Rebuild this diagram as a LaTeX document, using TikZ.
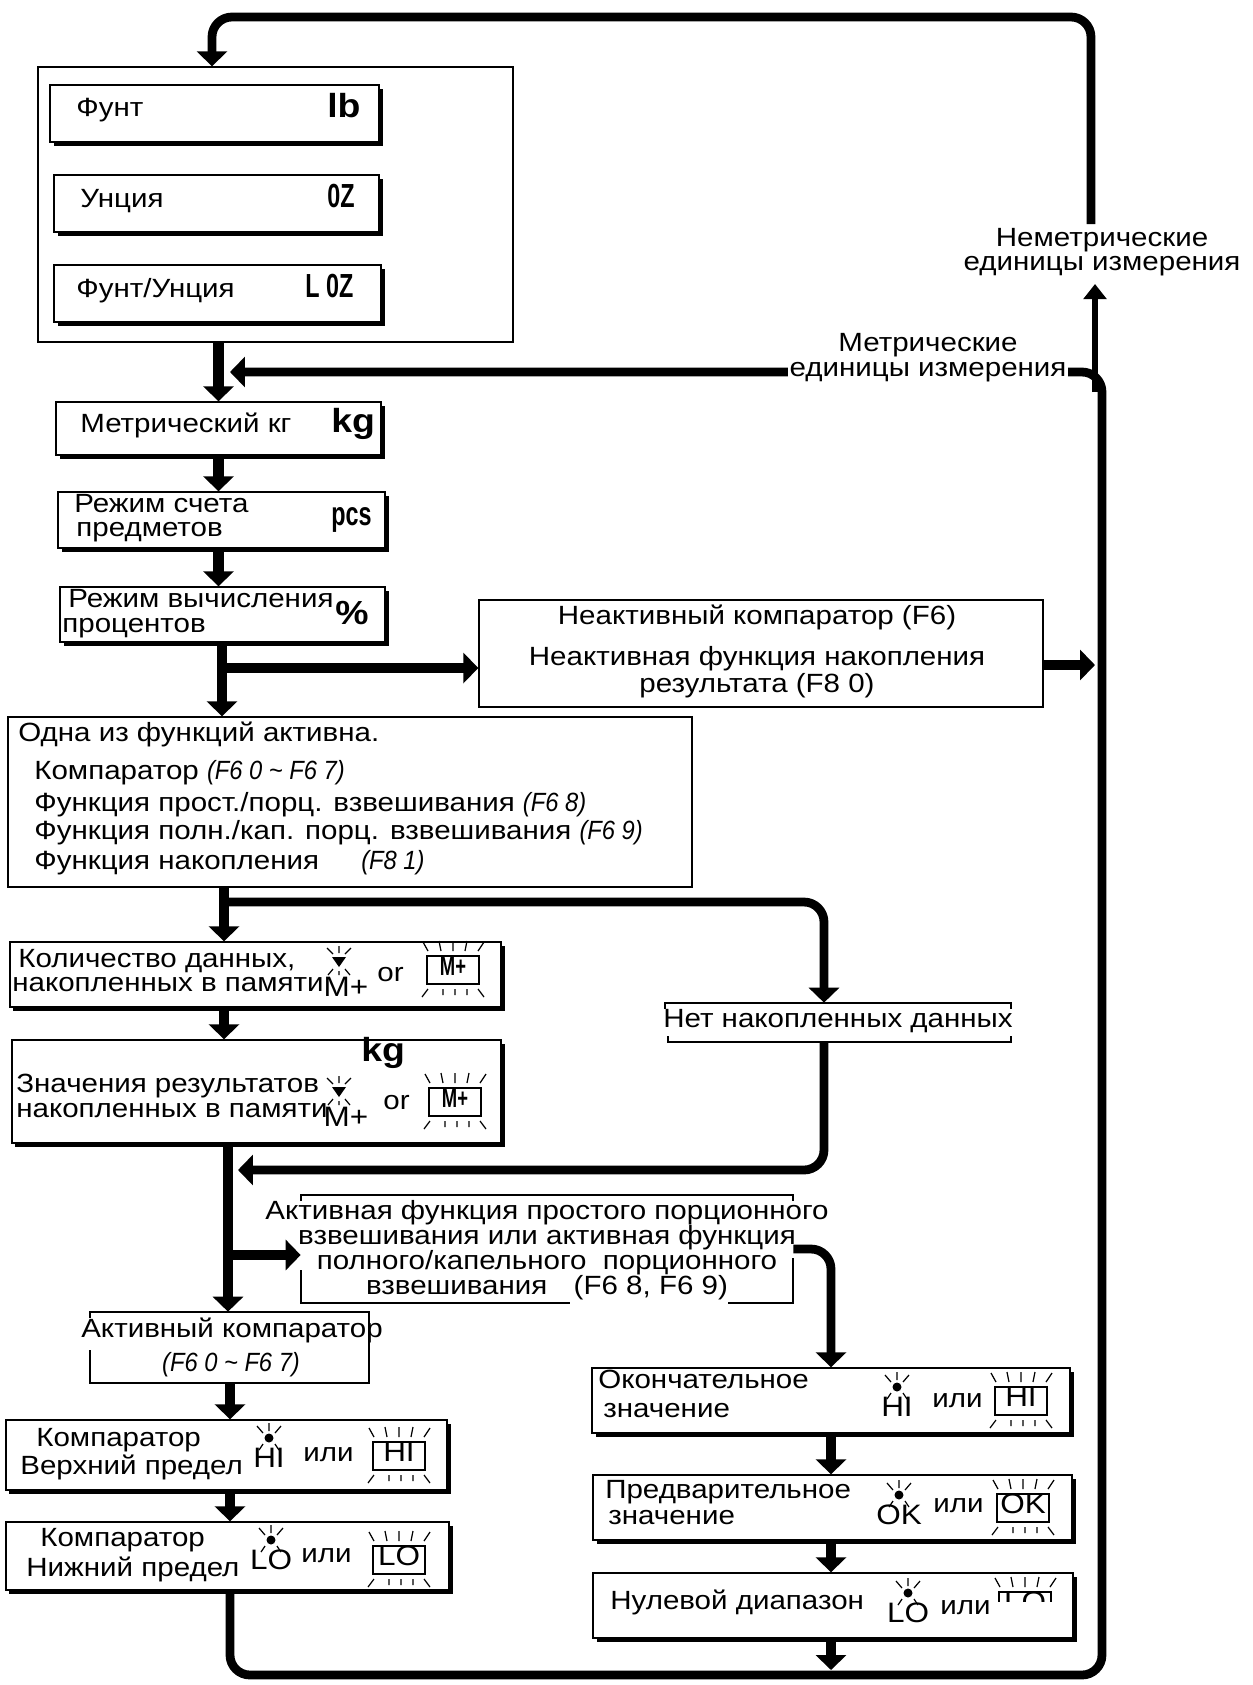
\documentclass[tikz,border=0pt]{standalone}
\usepackage{fontspec}
\setmainfont{Liberation Sans}[FakeStretch=1.12]
\newfontfamily\segfont{Liberation Sans}[FakeStretch=0.7]
\newfontfamily\lcdfont{Liberation Sans}[FakeStretch=0.9]
\usetikzlibrary{arrows.meta, fit, shadows}
\newcommand{\lcd}[1]{{\lcdfont\itshape #1}}
\tikzset{
  frame/.style={draw, line width=0.8pt, inner sep=0pt},
  shadowbox/.style={frame, fill=white, drop shadow={shadow xshift=0.07cm, shadow yshift=-0.07cm, fill=black, opacity=1}},
  txt/.style={inner sep=0pt, anchor=west, text height=0.72em, text depth=0.2em},
  ctxt/.style={inner sep=0pt, text height=0.72em, text depth=0.2em},
  bigunit/.style={txt, font=\fontsize{19}{19}\selectfont\bfseries},
  segunit/.style={txt, font=\fontsize{19}{19}\selectfont\segfont\bfseries},
  flow/.style={line width=6pt, -{Triangle[length=0.3cm, width=0.6cm]}},
  flowthin/.style={line width=3.5pt, -{Triangle[length=0.3cm, width=0.45cm]}},
  loopline/.style={line width=5pt, rounded corners=0.4cm, -{Triangle[length=0.3cm, width=0.6cm]}},
  bracket/.style={line width=0.8pt},
  raystroke/.style={line width=0.7pt},
  pics/trilamp/.style={code={
    \fill (-7,-5) -- (7,-5) -- (0,5) -- cycle;
    \draw[raystroke] (0,-9) -- (0,-16) (-6,-8) -- (-12,-14) (6,-8) -- (12,-14)
      (-6,7) -- (-11,13) (6,7) -- (11,13) (0,9) -- (0,13);
    \node[ctxt, font=\fontsize{16}{16}\selectfont] (-t) at (7,30) {#1};
  }},
  pics/dotlamp/.style={code={
    \fill (0,0) circle (0.09cm);
    \draw[raystroke] (0,-7) -- (0,-15) (-6,-5) -- (-12,-12) (6,-5) -- (12,-12)
      (-6,6) -- (-10,12) (6,6) -- (10,12);
    \node[ctxt, font=\fontsize{16}{16}\selectfont] (-t) at (0,25) {#1};
  }},
  pics/boxlamp/.style={code={
    \draw[line width=1.2pt] (-26,-14) rectangle (26,14);
    \node[ctxt, font=\fontsize{16}{16}\selectfont] (-t) at (0,1) {#1};
    \draw[raystroke] (-30,-28) -- (-25,-19) (-14,-29) -- (-12,-19) (0,-29) -- (0,-19)
      (12,-19) -- (14,-29) (25,-19) -- (31,-28)
      (-25,19) -- (-31,27) (-10,19) -- (-10,25) (2,19) -- (2,25) (14,19) -- (14,25) (25,19) -- (31,27);
  }},
}
\begin{document}
\begin{tikzpicture}[x=0.02cm, y=-0.02cm, every node/.style={font=\fontsize{15}{17}\selectfont}]
\fill[white] (0,0) rectangle (1252,1685);
\useasboundingbox (0,0) rectangle (1252,1685);

% non-metric units
\node[frame, fit={(38,67) (513,342)}] (units) {};
\node[shadowbox, fit={(50,85) (379,142)}] (lb) {};
\node[txt] (lbtxt) at (76,112) {Фунт};
\node[bigunit] (lbsym) at (327,113) {lb};
\node[shadowbox, fit={(54,175) (379,232)}] (oz) {};
\node[txt] (oztxt) at (80,203) {Унция};
\node[segunit] (ozsym) at (327,203) {0Z};
\node[shadowbox, fit={(54,265) (381,322)}] (lboz) {};
\node[txt] (lboztxt) at (76,293) {Фунт/Унция};
\node[segunit] (lbozsym) at (305,293) {L 0Z};

% metric chain
\node[shadowbox, fit={(56,402) (381,455)}] (kg) {};
\node[txt] (kgtxt) at (80,428) {Метрический кг};
\node[bigunit] (kgsym) at (331,428) {kg};
\node[shadowbox, fit={(58,492) (385,548)}] (pcs) {};
\node[txt] (pcstxta) at (74,508) {Режим счета};
\node[txt] (pcstxtb) at (76,532) {предметов};
\node[segunit] (pcssym) at (331,521) {pcs};
\node[shadowbox, fit={(60,587) (385,642)}] (pct) {};
\node[txt] (pcttxta) at (68,603) {Режим вычисления};
\node[txt] (pcttxtb) at (62,628) {процентов};
\node[bigunit] (pctsym) at (335,620) {\%};

\node[frame, fit={(479,600) (1043,707)}] (inactive) {};
\node[ctxt] (inacta) at (757,620) {Неактивный компаратор (F6)};
\node[ctxt] (inactb) at (757,661) {Неактивная функция накопления};
\node[ctxt] (inactc) at (757,688) {результата (F8 0)};

\node[frame, fit={(8,717) (692,887)}] (onefunc) {};
\node[txt] (onea) at (18,737) {Одна из функций активна.};
\node[txt] (oneb) at (34,775) {Компаратор \lcd{(F6 0 \textasciitilde\ F6 7)}};
\node[txt] (onec) at (34,807) {Функция прост./порц. взвешивания \lcd{(F6 8)}};
\node[txt] (oned) at (34,835) {Функция полн./кап. порц. взвешивания \lcd{(F6 9)}};
\node[txt] (onee) at (34,865) {Функция накопления\hspace{1.6em}\lcd{(F8 1)}};

% accumulation
\node[shadowbox, fit={(10,942) (501,1007)}] (count) {};
\node[txt] (counta) at (18,963) {Количество данных,};
\node[txt] (countb) at (12,987) {накопленных в памяти};
\pic (countlamp) at (339,962) {trilamp={M+}};
\node[txt] (countor) at (377,977) {or};
\pic (countbox) at (453,970) {boxlamp={\segfont\bfseries\fontsize{15}{15}\selectfont M+}};

\node[shadowbox, fit={(12,1040) (501,1143)}] (total) {};
\node[bigunit] (totalsym) at (361,1057) {kg};
\node[txt] (totala) at (16,1088) {Значения результатов};
\node[txt] (totalb) at (16,1113) {накопленных в памяти};
\pic (totallamp) at (339,1092) {trilamp={M+}};
\node[txt] (totalor) at (383,1105) {or};
\pic (totalbox) at (455,1102) {boxlamp={\segfont\bfseries\fontsize{15}{15}\selectfont M+}};

\node[inner sep=0pt, fit={(665,1003) (1011,1042)}] (nodata) {};
\node[ctxt] (nodatatxt) at (nodata.center) {Нет накопленных данных};
\draw[bracket] (665,1009) -- (665,1003) -- (1011,1003) -- (1011,1009);
\draw[bracket] (668,1036) -- (668,1042) -- (1011,1042) -- (1011,1036);

% batch weighing
\node[inner sep=0pt, fit={(301,1195) (793,1303)}] (actfn) {};
\node[inner sep=0pt, align=center, font=\fontsize{15}{14.3}\selectfont] (actfntxt) at (547,1250)
  {Активная функция простого порционного\\взвешивания или активная функция\\полного/капельного\ \ порционного\\взвешивания\quad(F6 8, F6 9)};
\draw[bracket] (301,1201) -- (301,1195) -- (793,1195) -- (793,1201);
\draw[bracket] (301,1270) -- (301,1303) -- (570,1303);
\draw[bracket] (728,1303) -- (793,1303) -- (793,1258);

\node[shadowbox, fit={(592,1368) (1070,1433)}] (final) {};
\node[txt] (finala) at (598,1384) {Окончательное};
\node[txt] (finalb) at (603,1413) {значение};
\pic (finallamp) at (897,1387) {dotlamp={HI}};
\node[txt] (finalor) at (932,1403) {или};
\pic (finalbox) at (1021,1401) {boxlamp={HI}};

\node[shadowbox, fit={(593,1475) (1072,1540)}] (prelim) {};
\node[txt] (prelima) at (605,1494) {Предварительное};
\node[txt] (prelimb) at (608,1520) {значение};
\pic (prelimlamp) at (899,1495) {dotlamp={OK}};
\node[txt] (prelimor) at (933,1508) {или};
\pic (prelimbox) at (1023,1508) {boxlamp={OK}};

\node[shadowbox, fit={(593,1573) (1073,1638)}] (zero) {};
\node[txt] (zeroa) at (610,1605) {Нулевой диапазон};
\pic (zerolamp) at (908,1593) {dotlamp={LO}};
\node[txt] (zeroor) at (940,1610) {или};
\begin{scope}
  \clip (985,1570) rectangle (1065,1601);
  \pic (zerobox) at (1025,1606) {boxlamp={LO}};
\end{scope}

% comparator
\node[inner sep=0pt, fit={(90,1312) (369,1383)}] (actcmp) {};
\node[ctxt] (actcmpa) at (232,1333) {Активный компаратор};
\node[ctxt] (actcmpb) at (231,1367) {\lcd{(F6 0 \textasciitilde\ F6 7)}};
\draw[bracket] (90,1318) -- (90,1312) -- (369,1312) -- (369,1383) -- (90,1383) -- (90,1350);

\node[shadowbox, fit={(6,1420) (447,1490)}] (hi) {};
\node[txt] (hia) at (36,1442) {Компаратор};
\node[txt] (hib) at (20,1470) {Верхний предел};
\pic (hilamp) at (269,1438) {dotlamp={HI}};
\node[txt] (hior) at (303,1457) {или};
\pic (hibox) at (399,1456) {boxlamp={HI}};

\node[shadowbox, fit={(6,1522) (449,1590)}] (lo) {};
\node[txt] (loa) at (40,1542) {Компаратор};
\node[txt] (lob) at (26,1572) {Нижний предел};
\pic (lolamp) at (271,1540) {dotlamp={LO}};
\node[txt] (loor) at (301,1558) {или};
\pic (lobox) at (399,1560) {boxlamp={LO}};

% junctions
\coordinate (j1) at (222,668);
\coordinate (j2) at (224,902);
\coordinate (j3) at (228,1255);
\coordinate (j4) at (238,1170);
\coordinate (nd) at (824,0);
\coordinate (colH) at (230,0);
\coordinate (rb) at (1102,1675);
\coordinate (mtip) at (230,372);
\coordinate (ir) at (1095,665);
\coordinate (zb) at (0,1670);
\coordinate (nm0) at (1095,392);
\coordinate (nmtip) at (1095,284);
\coordinate (nm1) at (1091,224);
\coordinate (tl) at (212,17);

% short arrows
\draw[flow] (units.south -| kg.north) -- (kg.north);
\draw[flow] (kg.south) -- (kg.south |- pcs.north);
\draw[flow] (kg.south |- pcs.south) -- (kg.south |- pct.north);
\draw[flow] (j1 |- pct.south) -- (j1 |- onefunc.north);
\draw[flow] (j1) -- (j1 -| inactive.west);
\draw[flow] (ir -| inactive.east) -- (ir);
\draw[flow] (j2 |- onefunc.south) -- (j2 |- count.north);
\draw[flow] (j2 |- count.south) -- (j2 |- total.north);
\draw[flow] (j3 |- total.south) -- (j3 |- actcmp.north);
\draw[flow] (j3) -- (j3 -| actfn.west);
\draw[flow] (colH |- actcmp.south) -- (colH |- hi.north);
\draw[flow] (colH |- hi.south) -- (colH |- lo.north);
\draw[flow] (final.south) -- (final.south |- prelim.north);
\draw[flow] (final.south |- prelim.south) -- (final.south |- zero.north);
\draw[flow] (final.south |- zero.south) -- (final.south |- zb);

% long loops
\draw[loopline] (j2) -| (nd |- nodata.north);
\draw[loopline] (nd |- nodata.south) |- (j4);
\draw[loopline] (actfn.east) -| (final.north);
\draw[loopline] (colH |- lo.south) |- (rb) |- (mtip);
\draw[flowthin] (nm0) -- (nmtip);
\draw[loopline] (nm1) |- (tl) -- (tl |- units.north);

\node[align=center, fill=white, inner sep=1pt, font=\fontsize{15}{14.2}\selectfont] (metric) at (928,358) {Метрические\\единицы измерения};
\node[align=center, inner sep=0pt, font=\fontsize{15}{14}\selectfont] (nonmetric) at (1102,252) {Неметрические\\единицы измерения};
\end{tikzpicture}
\end{document}
